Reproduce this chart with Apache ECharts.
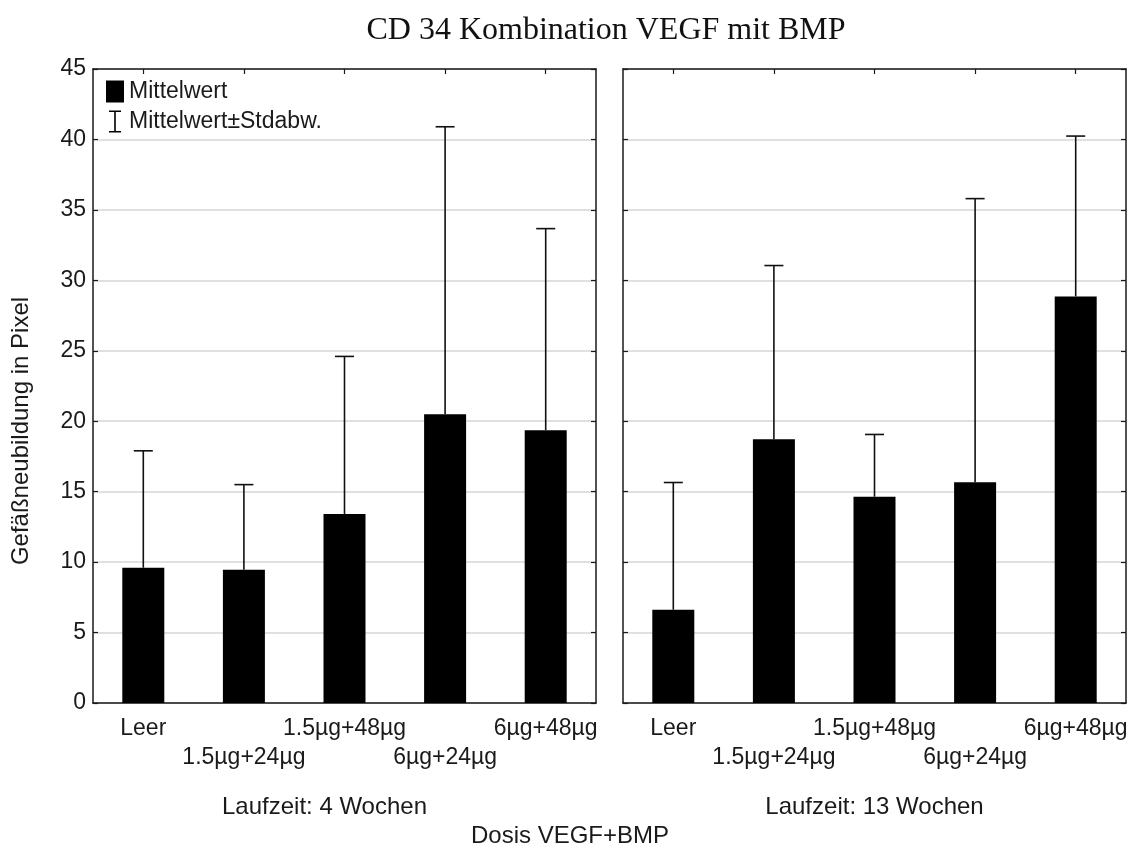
<!DOCTYPE html>
<html>
<head>
<meta charset="utf-8">
<script src="https://cdn.jsdelivr.net/npm/echarts@6/dist/echarts.min.js"></script>
<style>html,body{margin:0;padding:0;background:#fff}#c{width:1140px;height:852px}</style>
</head>
<body>
<div id="c"></div>
<script>
const categories = ['Leer', '1.5µg+24µg', '1.5µg+48µg', '6µg+24µg', '6µg+48µg'];
const mean4 = [9.6, 9.45, 13.42, 20.5, 19.36];
const sd4 = [8.3, 6.05, 11.18, 20.4, 14.31];
const mean13 = [6.62, 18.72, 14.64, 15.67, 28.86];
const sd13 = [9.03, 12.33, 4.42, 20.13, 11.38];
const yTicks = [0, 5, 10, 15, 20, 25, 30, 35, 40, 45];
const panelNames = ['Laufzeit: 4 Wochen', 'Laufzeit: 13 Wochen'];
const titleText = 'CD 34 Kombination VEGF mit BMP';
const yName = 'Gefäßneubildung in Pixel';
const xName = 'Dosis VEGF+BMP';
const legendNames = ['Mittelwert', 'Mittelwert±Stdabw.'];

const FONT = 'Liberation Sans, Arial, sans-serif';
const TXT = '#1a1a1a';
const LINE = '#1a1a1a';

const chart = echarts.init(document.getElementById('c'));

function xAxes(gi) {
  return [
    {
      type: 'category', gridIndex: gi, data: categories, position: 'bottom',
      axisLine: {onZero: false, lineStyle: {color: LINE, width: 1.5}},
      axisTick: {show: false},
      axisLabel: {
        color: TXT, fontFamily: FONT, fontSize: 23, lineHeight: 29, margin: 11,
        interval: 0,
        formatter: (v, i) => (i % 2 === 1 ? '\n' + v : v)
      },
      name: panelNames[gi], nameLocation: 'middle', nameGap: 92,
      nameTextStyle: {color: TXT, fontFamily: FONT, fontSize: 24,
        padding: gi === 0 ? [0, 40, 0, 0] : [0, 0, 0, 0]}
    },
    {
      type: 'category', gridIndex: gi, data: categories, position: 'top',
      axisLine: {onZero: false, lineStyle: {color: LINE, width: 1.5}},
      axisTick: {show: true, inside: true, alignWithLabel: true, length: 5, lineStyle: {color: LINE, width: 1.2}},
      axisLabel: {show: false}
    }
  ];
}
function yAxes(gi) {
  const base = {
    type: 'value', gridIndex: gi, min: yTicks[0], max: yTicks[yTicks.length - 1],
    interval: yTicks[1] - yTicks[0],
    axisLine: {show: true, onZero: false, lineStyle: {color: LINE, width: 1.5}},
    axisTick: {show: true, inside: true, length: 5, lineStyle: {color: LINE, width: 1.2}}
  };
  return [
    Object.assign({}, base, {
      position: 'left',
      axisLabel: {show: gi === 0, color: TXT, fontFamily: FONT, fontSize: 23, margin: 7},
      splitLine: {show: true, lineStyle: {color: '#d6d6d6', width: 1.5}}
    }),
    Object.assign({}, base, {
      position: 'right',
      axisLabel: {show: false},
      splitLine: {show: false}
    })
  ];
}

function errSeries(gi, means, sds) {
  return {
    type: 'custom', name: legendNames[1], xAxisIndex: gi * 2, yAxisIndex: gi * 2, z: 3,
    data: means.map((m, i) => [i, m, sds[i]]),
    renderItem: function (params, api) {
      const i = api.value(0), m = api.value(1), s = api.value(2);
      const p0 = api.coord([i, m]);
      const p1 = api.coord([i, m + s]);
      const hw = 9.5;
      const st = {stroke: '#111', lineWidth: 1.6};
      return {
        type: 'group', children: [
          {type: 'line', shape: {x1: p0[0], y1: p0[1], x2: p1[0], y2: p1[1]}, style: st},
          {type: 'line', shape: {x1: p1[0] - hw, y1: p1[1], x2: p1[0] + hw, y2: p1[1]}, style: st}
        ]
      };
    }
  };
}
function barSeries(gi, means) {
  return {
    type: 'bar', name: legendNames[0], xAxisIndex: gi * 2, yAxisIndex: gi * 2,
    data: means, barWidth: 42, itemStyle: {color: '#000'}, z: 2
  };
}

const option = {
  backgroundColor: '#fff',
  animation: false,
  grid: [
    {left: 93, top: 69, width: 503, height: 634},
    {left: 623, top: 69, width: 503, height: 634}
  ],
  xAxis: [...xAxes(0), ...xAxes(1)],
  yAxis: [...yAxes(0), ...yAxes(1)],
  legend: {
    orient: 'vertical', left: 106, top: 80, itemGap: 7, padding: 0,
    itemWidth: 18, itemHeight: 22,
    textStyle: {color: TXT, fontFamily: FONT, fontSize: 23},
    data: [
      {name: legendNames[0], icon: 'rect', itemStyle: {color: '#000'}},
      {name: legendNames[1], icon: 'path://M0,0H12V1.6H0Z M5.2,0H6.8V22H5.2Z M0,20.4H12V22H0Z', itemStyle: {color: '#000'}}
    ]
  },
  graphic: [
    {type: 'text', x: 606, y: 31, style: {text: titleText, textAlign: 'center', textVerticalAlign: 'middle',
      fill: '#111', font: '32px "Liberation Serif", "DejaVu Serif", serif'}},
    {type: 'text', x: 21, y: 431, rotation: Math.PI / 2, style: {text: yName, textAlign: 'center', textVerticalAlign: 'middle',
      fill: TXT, font: '24px "Liberation Sans", Arial, sans-serif'}},
    {type: 'text', x: 570, y: 836, style: {text: xName, textAlign: 'center', textVerticalAlign: 'middle',
      fill: TXT, font: '24px "Liberation Sans", Arial, sans-serif'}}
  ],
  series: [
    barSeries(0, mean4), errSeries(0, mean4, sd4),
    barSeries(1, mean13), errSeries(1, mean13, sd13)
  ]
};
chart.setOption(option);
</script>
</body>
</html>
